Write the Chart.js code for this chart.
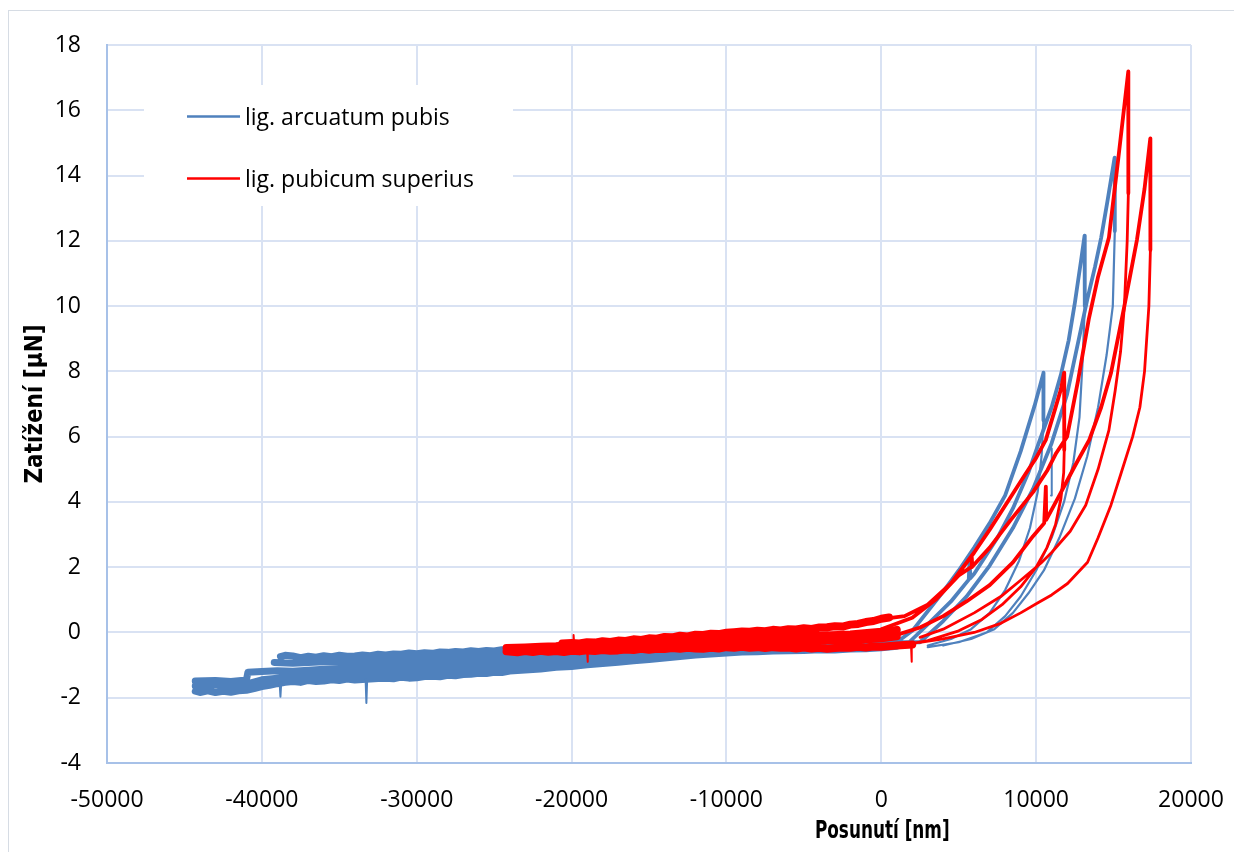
<!DOCTYPE html>
<html><head><meta charset="utf-8">
<script src="https://cdn.jsdelivr.net/npm/chart.js@4/dist/chart.umd.min.js"></script>
<style>html,body{margin:0;padding:0;background:#fff}#wrap{width:1234px;height:852px;position:relative}</style>
</head><body><div id="wrap"><canvas id="c" width="1234" height="852"></canvas></div>
<script>
// ---- tick values ----
const xTickValues = [-50000,-40000,-30000,-20000,-10000,0,10000,20000];
const yTickValues = [-4,-2,0,2,4,6,8,10,12,14,16,18];
const seriesNames = ['lig. arcuatum pubis','lig. pubicum superius'];
const xTitle = 'Posunutí [nm]';
const yTitle = 'Zatížení [µN]';

// ---- lig. arcuatum pubis: baseline passes (null separates passes) ----
const blueBandX = [
 -44300,-44000,-43500,-43000,-42500,-42000,-41500,-41000,-40500,-40000,-39500,-39000,-38500,-38000,-37500,-37000,-36500,-36000,-35500,-35000,-34500,-34000,-33500,-33000,-32500,-32000,-31500,-31000,-30500,-30000,-29500,-29000,-28500,-28000,-27500,-27000,-26500,-26000,-25500,-25000,-24500,-24000,-23000,-22000,-21000,-20000,-19000,-18000,-17000,-16000,-15000,-14000,-13000,-12000,-11000,-10000,-9000,-8000,-7000,-6000,-5000,-4000,-3000,-2000,-1000,0,1000,null,
 -44300,-43000,-42000,-41000,-40000,-39000,-38000,-36000,-34000,-32000,-30000,-28000,-26000,-24000,-22000,-20000,-18000,-16000,-14000,-12000,-10000,-8000,-6000,-4000,-2000,0,1000,null,
 -44300,-43000,-42000,-41000,-40900,-40000,-39000,-38000,-36000,-34000,-32000,-30000,-28000,-26000,-24000,-22000,-20000,-18000,-16000,-14000,-12000,-10000,-8000,-6000,-4000,-2000,0,1000,null,
 -39200,-38000,-36000,-34000,-32000,-30000,-28000,-26000,-24000,-22000,-20000,-18000,-16000,-14000,-12000,-10000,-8000,-6000,-4000,-2000,0,1000,null,
 -38800,-38500,-38000,-37500,-37000,-36500,-36000,-35500,-35000,-34500,-34000,-33500,-33000,-32500,-32000,-31500,-31000,-30500,-30000,-29500,-29000,-28500,-28000,-27500,-27000,-26500,-26000,-25500,-25000,-24500,-24000,-22000,-20000,-18000,-16000,-14000,-12000,-10000,-8000,-6000,-4000,-2000,0,1000
];
const blueBandY = [
 -1.80,-1.84,-1.79,-1.84,-1.80,-1.83,-1.79,-1.77,-1.72,-1.66,-1.62,-1.57,-1.53,-1.50,-1.53,-1.47,-1.50,-1.49,-1.45,-1.47,-1.43,-1.46,-1.44,-1.43,-1.41,-1.40,-1.42,-1.37,-1.40,-1.39,-1.35,-1.34,-1.36,-1.31,-1.33,-1.29,-1.28,-1.25,-1.26,-1.22,-1.23,-1.18,-1.15,-1.12,-1.07,-1.04,-0.99,-0.95,-0.91,-0.87,-0.83,-0.78,-0.74,-0.69,-0.66,-0.63,-0.60,-0.59,-0.57,-0.56,-0.55,-0.53,-0.54,-0.51,-0.50,-0.47,-0.42,null,
 -1.64,-1.60,-1.63,-1.58,-1.45,-1.40,-1.36,-1.33,-1.30,-1.27,-1.22,-1.18,-1.12,-1.05,-0.98,-0.92,-0.85,-0.79,-0.73,-0.66,-0.61,-0.57,-0.53,-0.50,-0.47,-0.43,-0.38,null,
 -1.49,-1.47,-1.50,-1.46,-1.22,-1.20,-1.17,-1.19,-1.13,-1.10,-1.06,-1.01,-0.97,-0.92,-0.86,-0.81,-0.76,-0.71,-0.66,-0.61,-0.57,-0.53,-0.50,-0.47,-0.44,-0.40,-0.35,-0.30,null,
 -0.92,-0.94,-0.90,-0.89,-0.85,-0.81,-0.77,-0.73,-0.68,-0.65,-0.61,-0.58,-0.55,-0.52,-0.50,-0.47,-0.45,-0.43,-0.41,-0.39,-0.35,-0.30,null,
 -0.74,-0.70,-0.72,-0.77,-0.73,-0.76,-0.71,-0.74,-0.70,-0.73,-0.72,-0.69,-0.71,-0.67,-0.69,-0.66,-0.67,-0.63,-0.65,-0.62,-0.64,-0.60,-0.61,-0.58,-0.60,-0.56,-0.58,-0.55,-0.57,-0.53,-0.54,-0.51,-0.49,-0.46,-0.44,-0.42,-0.40,-0.38,-0.36,-0.34,-0.33,-0.31,-0.28,-0.24
];
// short spikes (thin)
const blueSpikeX = [-38850,-38800,-38750,null,-33300,-33250,-33200,null,10960,10995,11020];
const blueSpikeY = [-1.55,-1.97,-1.54,null,-1.44,-2.16,-1.44,null,4.20,5.64,4.30];
// loading curves with hold drop
const blueLoadX = [
 0,1000,2000,3000,4000,5000,6000,7000,8000,9000,9900,10478,10470,null,
 500,1800,3000,4500,5650,5700,5750,6000,7500,8500,9500,10200,11000,11600,12100,12500,12900,13128,13140,null,
 800,2500,4000,5500,7000,8500,9800,11000,12000,12400,13300,13800,14200,14600,15068,15080
];
const blueLoadY = [
 -0.45,-0.30,0.05,0.65,1.25,1.90,2.60,3.35,4.20,5.55,6.95,7.96,6.50,null,
 -0.38,-0.30,0.25,0.95,1.62,2.27,1.66,1.80,2.90,3.80,4.90,5.85,6.90,7.90,8.95,10.10,11.40,12.16,10.00,null,
 -0.30,-0.30,0.35,1.10,2.05,3.20,4.40,5.80,7.30,8.20,10.20,11.20,12.10,13.20,14.55,12.30
];
// unloading curves
const blueUnloadX = [
 10470,10350,10100,9600,8900,8000,7000,5800,4500,3000,null,
 13140,13000,12800,12400,11800,11000,10000,9000,8000,6800,5000,3000,null,
 15080,14950,14550,14000,13300,12500,11500,10500,9500,8500,7300,5800,4000
];
const blueUnloadY = [
 6.50,5.40,4.30,3.20,2.20,1.30,0.60,0.10,-0.20,-0.40,null,
 10.00,8.30,6.60,5.20,4.00,2.90,1.90,1.10,0.50,0.00,-0.30,-0.45,null,
 12.30,10.00,8.50,6.90,5.40,4.10,2.90,1.90,1.20,0.60,0.10,-0.20,-0.40
];

// ---- lig. pubicum superius ----
const redBandX = [
 -24200,-23500,-23000,-22500,-22000,-21500,-21000,-20500,-20000,-19500,-19000,-18500,-18000,-17500,-17000,-16500,-16000,-15500,-15000,-14500,-14000,-13500,-13000,-12500,-12000,-11500,-11000,-10500,-10000,-9500,-9000,-8500,-8000,-7500,-7000,-6500,-6000,-5500,-5000,-4500,-4000,-3500,-3000,-2500,-2000,-1500,-1000,-500,0,1000,2000,null,
 -24200,-23000,-22000,-21000,-20000,-18000,-16000,-14000,-12000,-10000,-8000,-6000,-4000,-2000,0,1000,null,
 -20600,-20000,-19500,-19000,-18500,-18000,-17500,-17000,-16500,-16000,-15500,-15000,-14500,-14000,-13500,-13000,-12500,-12000,-11500,-11000,-10500,-10000,-9500,-9000,-8500,-8000,-7500,-7000,-6500,-6000,-5500,-5000,-4500,-4000,-3500,-3000,-2500,-2000,-1500,-1000,-500,0,500,null,
 -19500,-18000,-16000,-14000,-12000,-10000,-8000,-6000,-4000,-2000,0,1000
];
const redBandY = [
 -0.58,-0.61,-0.57,-0.60,-0.56,-0.59,-0.57,-0.60,-0.56,-0.58,-0.55,-0.57,-0.54,-0.56,-0.55,-0.52,-0.54,-0.50,-0.53,-0.50,-0.51,-0.48,-0.50,-0.47,-0.49,-0.50,-0.47,-0.49,-0.45,-0.47,-0.44,-0.47,-0.45,-0.48,-0.45,-0.47,-0.46,-0.49,-0.46,-0.49,-0.47,-0.50,-0.48,-0.46,-0.47,-0.44,-0.46,-0.43,-0.44,-0.40,-0.37,null,
 -0.48,-0.46,-0.44,-0.42,-0.38,-0.35,-0.31,-0.28,-0.24,-0.20,-0.17,-0.13,-0.10,-0.06,0.02,0.08,null,
 -0.34,-0.32,-0.34,-0.30,-0.31,-0.27,-0.29,-0.25,-0.26,-0.21,-0.23,-0.18,-0.19,-0.14,-0.15,-0.10,-0.12,-0.07,-0.08,-0.04,-0.05,-0.01,0.01,0.03,0.02,0.05,0.04,0.08,0.06,0.10,0.09,0.13,0.11,0.15,0.16,0.19,0.18,0.24,0.26,0.32,0.35,0.42,0.46,null,
 -0.44,-0.42,-0.39,-0.36,-0.33,-0.30,-0.28,-0.26,-0.25,-0.22,-0.18,-0.12
];
const redSpikeX = [-19900,-19870,-19840,null,-19000,-18970,-18940,null,1920,1950,1980];
const redSpikeY = [-0.32,-0.08,-0.31,null,-0.55,-0.90,-0.55,null,-0.40,-0.90,-0.39];
const redLoadX = [
 -500,1500,3000,4500,6000,7000,8150,9300,10000,10627,11270,11600,11810,11815,null,
 0,2000,3500,5000,5800,5843,5880,7000,8365,9800,10740,11300,12000,12700,13400,14000,14700,15300,15950,15955,null,
 500,2500,4000,5500,7000,8500,9800,10520,10627,10650,11500,12500,13430,14200,14830,15690,16510,17000,17373,17378
];
const redLoadY = [
 0.38,0.50,0.85,1.50,2.45,3.15,4.00,4.85,5.35,5.90,6.92,7.45,7.96,5.60,null,
 0.10,0.45,1.00,1.75,2.00,2.30,2.02,2.60,3.45,4.30,4.98,5.50,6.00,7.70,9.60,10.90,12.10,14.50,17.19,13.46,null,
 -0.15,0.15,0.50,0.95,1.45,2.15,2.95,3.35,4.47,3.45,4.20,5.10,5.90,6.90,7.94,9.98,12.03,13.60,15.14,11.72
];
const redUnloadX = [
 11815,11780,11600,11250,10700,10000,9000,7800,6500,5000,3000,1500,null,
 15955,15880,15700,15450,15100,14700,14000,13200,12200,11000,10300,9000,7718,6000,4000,2500,null,
 17378,17280,17000,16700,16232,15500,14830,14000,13320,12030,11000,10090,9000,7718,6000,4000,2500
];
const redUnloadY = [
 5.60,4.90,4.10,3.30,2.60,2.00,1.40,0.85,0.40,0.05,-0.25,-0.38,null,
 13.46,12.00,10.00,8.60,7.40,6.20,5.00,3.90,3.10,2.45,2.12,1.60,1.10,0.60,0.10,-0.15,null,
 11.72,10.00,8.00,6.90,6.00,4.90,3.90,2.90,2.15,1.50,1.15,0.90,0.60,0.28,0.00,-0.20,-0.30
];

// ---- styles ----
const BLUE = '#4F81BD', RED = '#FF0000';
const GRID = '#D9E2F3', AXIS = '#A7C1E8';
const tickFont = {family: '"Open Sans", "DejaVu Sans", sans-serif', size: 23};
const titleFont = 'bold 25px "Liberation Sans Narrow", "DejaVu Sans Condensed", "Liberation Sans", sans-serif';

function pts(xs, ys) { return xs.map((x, i) => ({x: x === null ? null : x, y: ys[i]})); }
function ds(label, xs, ys, color, width, order) {
  return {label, data: pts(xs, ys), borderColor: color, backgroundColor: color, borderWidth: width,
    showLine: true, pointRadius: 0, pointHoverRadius: 0, tension: 0, spanGaps: false, order,
    borderJoinStyle: 'round', borderCapStyle: 'round'};
}

const decor = {
  id: 'decor',
  beforeDraw(chart) {
    const c = chart.ctx;
    c.save(); c.fillStyle = '#fff'; c.fillRect(0, 0, chart.width, chart.height);
    c.strokeStyle = '#D6DCE4'; c.lineWidth = 1; c.strokeRect(8.5, 10.5, 1400, 1000); c.restore();
  },
  afterDraw(chart) {
    const c = chart.ctx, xs = chart.scales.x, ys = chart.scales.y;
    c.save();
    // legend box
    c.fillStyle = '#fff'; c.fillRect(144, 85, 369, 121);
    const rows = [{y: 116.5, base: 125, color: BLUE}, {y: 178.5, base: 187, color: RED}];
    c.font = '23px "Open Sans", "DejaVu Sans", sans-serif'; c.textAlign = 'left'; c.textBaseline = 'alphabetic';
    rows.forEach((r, i) => {
      c.strokeStyle = r.color; c.lineWidth = 2.5; c.beginPath(); c.moveTo(187, r.y); c.lineTo(240, r.y); c.stroke();
      c.fillStyle = '#000'; c.fillText(seriesNames[i], 245, r.base);
    });
    // axis titles
    c.font = titleFont; c.fillStyle = '#000'; c.textAlign = 'center'; c.textBaseline = 'middle';
    c.save(); c.translate(xs.getPixelForValue(0) + 1, 831); c.scale(0.75, 1); c.fillText(xTitle, 0, 0); c.restore();
    c.font = 'bold 24px "Liberation Sans Narrow", "DejaVu Sans Condensed", "Liberation Sans", sans-serif';
    c.translate(36, (ys.top + ys.bottom) / 2); c.rotate(-Math.PI / 2);
    c.fillText(yTitle, 0, 0);
    c.restore();
  }
};

new Chart(document.getElementById('c'), {
  type: 'scatter',
  data: {datasets: [
    ds(seriesNames[0], blueBandX, blueBandY, BLUE, 7, 8),
    ds(seriesNames[0], blueSpikeX, blueSpikeY, BLUE, 2, 7),
    ds(seriesNames[0], blueUnloadX, blueUnloadY, BLUE, 2.2, 6),
    ds(seriesNames[0], blueLoadX, blueLoadY, BLUE, 3.8, 5),
    ds(seriesNames[1], redBandX, redBandY, RED, 8, 4),
    ds(seriesNames[1], redSpikeX, redSpikeY, RED, 2, 3),
    ds(seriesNames[1], redUnloadX, redUnloadY, RED, 2.8, 2),
    ds(seriesNames[1], redLoadX, redLoadY, RED, 3.8, 1)
  ]},
  options: {
    responsive: false, animation: false, devicePixelRatio: 1,
    layout: {padding: {left: 0, right: 43, top: 45, bottom: 0}},
    plugins: {legend: {display: false}, tooltip: {enabled: false}},
    scales: {
      x: {type: 'linear', min: -50000, max: 20000,
        afterBuildTicks: s => { s.ticks = xTickValues.map(v => ({value: v})); },
        afterFit: s => { s.height = 89; s.paddingLeft = 0; s.paddingRight = 0; },
        grid: {color: GRID, lineWidth: 2, drawTicks: false},
        border: {color: AXIS, width: 2},
        ticks: {font: tickFont, color: '#000', padding: 24, maxRotation: 0, autoSkip: false, callback: v => String(v)}},
      y: {type: 'linear', min: -4, max: 18,
        afterBuildTicks: s => { s.ticks = yTickValues.map(v => ({value: v})); },
        afterFit: s => { s.width = 107; s.paddingTop = 0; s.paddingBottom = 0; },
        grid: {color: GRID, lineWidth: 2, drawTicks: false},
        border: {color: AXIS, width: 2},
        ticks: {font: tickFont, color: '#000', padding: 26, autoSkip: false, callback: v => String(v)}}
    }
  },
  plugins: [decor]
});
</script>
</body></html>
